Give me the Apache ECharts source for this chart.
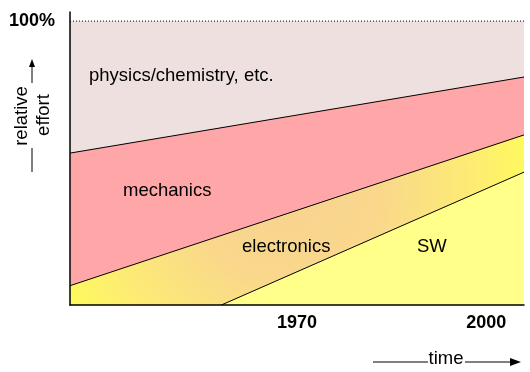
<!DOCTYPE html>
<html>
<head>
<meta charset="utf-8">
<script src="https://cdn.jsdelivr.net/npm/echarts@6/dist/echarts.min.js"></script>
<style>
html,body{margin:0;padding:0;background:#fff;}
#c{width:530px;height:372px;}
</style>
</head>
<body>
<div id="c"></div>
<script>
// ---- data ----
const years = [1934, 2006];          // left and right edge of the time axis
const swYears = [1958, 2006];        // SW starts later
const physicsTop = [100, 100];
const mechanicsTop = [53.5, 80.3];
const electronicsTop = [6.8, 59.9];
const swTop = [0, 46.8];
const xTickLabels = [1970, 2000];
const yTickLabels = [100];

const FONT = '"Liberation Sans", Arial, sans-serif';

function pairs(xs, ys) { return xs.map((x, i) => [x, ys[i]]); }

const chart = echarts.init(document.getElementById('c'), null, {renderer: 'canvas'});

const lineBlack = {color: '#000', width: 1};

const option = {
  animation: false,
  grid: {left: 70, right: 6, top: 12, bottom: 67},
  xAxis: {
    type: 'value', min: years[0], max: years[1], z: 10,
    axisLine: {show: true, lineStyle: {color: '#000', width: 1.5}},
    axisTick: {show: false},
    splitLine: {show: false},
    axisLabel: {
      customValues: xTickLabels, margin: 9,
      color: '#000', fontFamily: FONT, fontWeight: 'bold', fontSize: 18,
      formatter: v => String(v)
    }
  },
  yAxis: {
    type: 'value', min: 0, max: 103.2, z: 10,
    axisLine: {show: true, lineStyle: {color: '#000', width: 1.5}},
    axisTick: {show: false},
    splitLine: {show: false},
    axisLabel: {
      customValues: yTickLabels, margin: 15,
      color: '#000', fontFamily: FONT, fontWeight: 'bold', fontSize: 18,
      formatter: v => v + '%'
    }
  },
  series: [
    {
      name: 'physics/chemistry, etc.', type: 'line', symbol: 'none', z: 2,
      data: pairs(years, physicsTop),
      lineStyle: {color: '#000', width: 1, type: [1, 2]},
      areaStyle: {color: '#EFE0E0', opacity: 1}
    },
    {
      name: 'mechanics', type: 'line', symbol: 'none', z: 3,
      data: pairs(years, mechanicsTop),
      lineStyle: lineBlack,
      areaStyle: {color: '#FFA6A8', opacity: 1}
    },
    {
      name: 'electronics', type: 'line', symbol: 'none', z: 4,
      data: pairs(years, electronicsTop),
      lineStyle: lineBlack,
      areaStyle: {
        opacity: 1,
        color: {
          type: 'radial', x: 285, y: 185, r: 265, global: true,
          colorStops: [
            {offset: 0, color: '#F8D290'},
            {offset: 0.35, color: '#F9D78C'},
            {offset: 0.7, color: '#FDEB74'},
            {offset: 1, color: '#FFFF55'}
          ]
        }
      }
    },
    {
      name: 'SW', type: 'line', symbol: 'none', z: 5,
      data: pairs(swYears, swTop),
      lineStyle: lineBlack,
      areaStyle: {color: '#FFFF8A', opacity: 1}
    }
  ],
  graphic: [
    {type: 'text', z: 100, left: 89, top: 66, style: {text: 'physics/chemistry, etc.', font: '18.5px ' + FONT, fill: '#000'}},
    {type: 'text', z: 100, left: 123, top: 181, style: {text: 'mechanics', font: '18.5px ' + FONT, fill: '#000'}},
    {type: 'text', z: 100, left: 242, top: 237, style: {text: 'electronics', font: '18.5px ' + FONT, fill: '#000'}},
    {type: 'text', z: 100, left: 417, top: 237, style: {text: 'SW', font: '18.5px ' + FONT, fill: '#000'}},
    // vertical "relative effort" label with arrow
    {type: 'line', shape: {x1: 32, y1: 172, x2: 32, y2: 148}, style: {stroke: '#000', lineWidth: 1}},
    {type: 'line', shape: {x1: 32, y1: 83, x2: 32, y2: 65}, style: {stroke: '#000', lineWidth: 1}},
    {type: 'polygon', shape: {points: [[32, 59], [29, 67], [35, 67]]}, style: {fill: '#000'}},
    {type: 'text', x: 22, y: 116, rotation: Math.PI / 2,
      style: {text: 'relative', font: '18.5px ' + FONT, fill: '#000', align: 'center', verticalAlign: 'middle'}},
    {type: 'text', x: 44, y: 115, rotation: Math.PI / 2,
      style: {text: 'effort', font: '18.5px ' + FONT, fill: '#000', align: 'center', verticalAlign: 'middle'}},
    // "time" arrow
    {type: 'line', shape: {x1: 373, y1: 362, x2: 428, y2: 362}, style: {stroke: '#000', lineWidth: 1}},
    {type: 'line', shape: {x1: 465, y1: 362, x2: 511, y2: 362}, style: {stroke: '#000', lineWidth: 1}},
    {type: 'polygon', shape: {points: [[521, 362], [510, 358], [510, 366]]}, style: {fill: '#000'}},
    {type: 'text', x: 446, y: 359,
      style: {text: 'time', font: '18.5px ' + FONT, fill: '#000', align: 'center', verticalAlign: 'middle'}}
  ]
};

chart.setOption(option);
</script>
</body>
</html>
